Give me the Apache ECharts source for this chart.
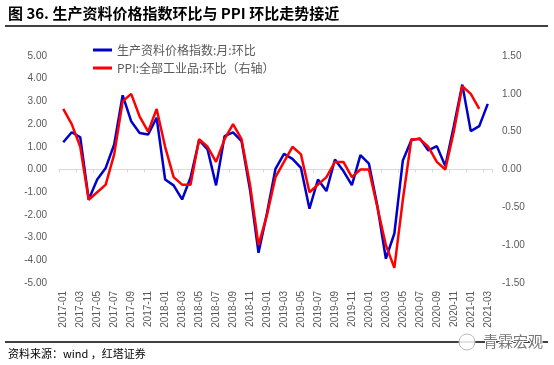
<!DOCTYPE html>
<html>
<head>
<meta charset="utf-8">
<script src="https://cdn.jsdelivr.net/npm/echarts@6/dist/echarts.min.js"></script>
<style>
html,body{margin:0;padding:0;background:#fff;}
#c{width:554px;height:365px;}
</style>
</head>
<body>
<div id="c"></div>
<script>
var categories = [
"2017-01","2017-02","2017-03","2017-04","2017-05","2017-06","2017-07","2017-08","2017-09","2017-10","2017-11","2017-12",
"2018-01","2018-02","2018-03","2018-04","2018-05","2018-06","2018-07","2018-08","2018-09","2018-10","2018-11","2018-12",
"2019-01","2019-02","2019-03","2019-04","2019-05","2019-06","2019-07","2019-08","2019-09","2019-10","2019-11","2019-12",
"2020-01","2020-02","2020-03","2020-04","2020-05","2020-06","2020-07","2020-08","2020-09","2020-10","2020-11","2020-12",
"2021-01","2021-02","2021-03"];

var producerMaterials = [
1.20,1.64,1.42,-1.32,-0.44,0.07,1.10,3.27,2.13,1.61,1.54,2.28,
-0.44,-0.70,-1.32,-0.35,1.29,0.88,-0.70,1.47,1.64,1.25,-0.90,-3.67,
-1.92,0.03,0.69,0.47,0.07,-1.73,-0.44,-0.95,0.44,-0.07,-0.69,0.63,
0.26,-1.61,-3.93,-2.82,0.40,1.29,1.37,0.84,1.03,0.15,1.91,3.74,
1.69,1.91,2.89];

var ppiMoM = [
0.8,0.6,0.3,-0.4,-0.3,-0.2,0.2,0.9,1.0,0.7,0.5,0.8,
0.3,-0.1,-0.2,-0.2,0.4,0.3,0.1,0.4,0.6,0.4,-0.2,-1.0,
-0.6,-0.1,0.1,0.3,0.2,-0.3,-0.2,-0.1,0.1,0.1,-0.1,0.0,
0.0,-0.5,-1.0,-1.3,-0.4,0.4,0.4,0.3,0.1,0.0,0.5,1.1,
1.0,0.8,null];

var leftTicks = {min:-5, max:5, interval:1};
var rightTicks = {min:-1.5, max:1.5, interval:0.5};

var chart = echarts.init(document.getElementById('c'), null, {renderer:'canvas'});
var grey = '#595959';
var cjk = '"Noto Sans CJK SC", "Liberation Sans", sans-serif';
var lat = '"Liberation Sans", Arial, sans-serif';

chart.setOption({
  animation:false,
  backgroundColor:'#fff',
  grid:{left:59, right:62, top:56, bottom:82},
  legend:{
    orient:'vertical', left:88, top:39, itemGap:6,
    itemWidth:19, itemHeight:3, icon:'rect',
    textStyle:{color:grey, fontSize:12, fontFamily:cjk},
    data:['生产资料价格指数:月:环比','PPI:全部工业品:环比（右轴）']
  },
  xAxis:[{
    type:'category', data:categories, boundaryGap:true,
    axisLine:{show:false}, axisTick:{show:false},
    axisLabel:{interval:1, rotate:90, margin:8, color:grey, fontSize:10, fontFamily:lat}
  },{
    type:'category', data:categories, boundaryGap:true, position:'bottom',
    axisLine:{show:true, onZero:true, lineStyle:{color:'#d9d9d9', width:1}},
    axisTick:{show:true, interval:1, length:3, lineStyle:{color:'#d9d9d9'}},
    axisLabel:{show:false}
  }],
  yAxis:[{
    type:'value', min:leftTicks.min, max:leftTicks.max, interval:leftTicks.interval,
    axisLine:{show:false}, axisTick:{show:false}, splitLine:{show:false},
    axisLabel:{margin:12, color:grey, fontSize:10, fontFamily:lat,
      formatter:function(v){return v.toFixed(2);}}
  },{
    type:'value', min:rightTicks.min, max:rightTicks.max, interval:rightTicks.interval,
    axisLine:{show:false}, axisTick:{show:false}, splitLine:{show:false},
    axisLabel:{margin:10, color:grey, fontSize:10, fontFamily:lat,
      formatter:function(v){return v.toFixed(2);}}
  }],
  series:[{
    name:'生产资料价格指数:月:环比', type:'line', xAxisIndex:0, yAxisIndex:0,
    data:producerMaterials, symbol:'none', smooth:false,
    lineStyle:{color:'#0000C8', width:2.5}, itemStyle:{color:'#0000C8'}
  },{
    name:'PPI:全部工业品:环比（右轴）', type:'line', xAxisIndex:0, yAxisIndex:1,
    data:ppiMoM, symbol:'none', smooth:false, connectNulls:false,
    lineStyle:{color:'#FF0000', width:2.5}, itemStyle:{color:'#FF0000'}
  }],
  graphic:[
    {type:'text', left:8, top:6, style:{text:'图 36. 生产资料价格指数环比与 PPI 环比走势接近', fill:'#000', font:'bold 15px '+cjk}},
    {type:'line', shape:{x1:5, y1:26, x2:548, y2:26}, style:{stroke:'#000', lineWidth:1.5}},
    {type:'line', shape:{x1:5, y1:342, x2:548, y2:342}, style:{stroke:'#000', lineWidth:1.5}},
    {type:'text', left:8, top:348, style:{text:'资料来源：wind ，红塔证券', fill:'#000', font:'11px '+cjk}},
    {type:'circle', shape:{cx:467, cy:342, r:8}, style:{fill:'rgba(255,255,255,0.85)', stroke:'#bbb', lineWidth:1}},
    {type:'text', left:482, top:333, style:{text:'青霖宏观', fill:'#777', font:'15px '+cjk, stroke:'#fff', lineWidth:2}}
  ]
});
</script>
</body>
</html>
